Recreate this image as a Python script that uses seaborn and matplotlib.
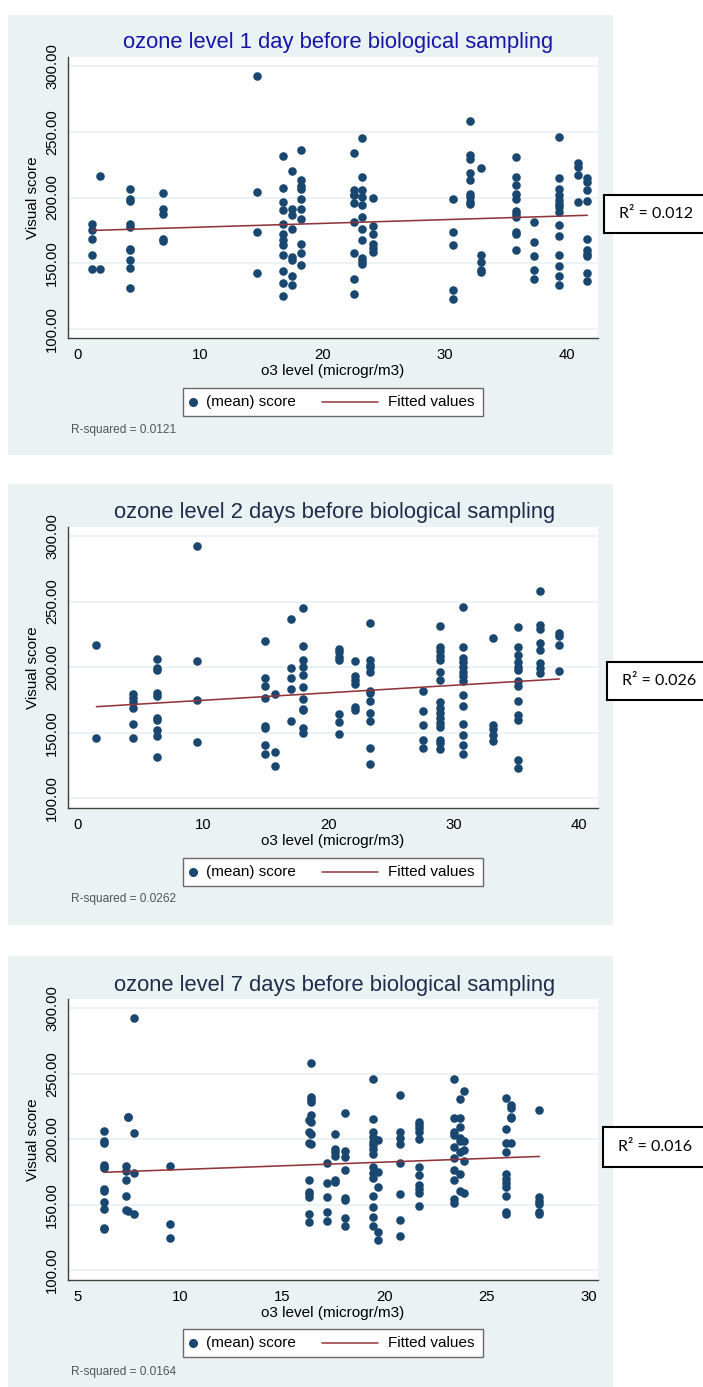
import numpy as np
import pandas as pd
import matplotlib
matplotlib.use('Agg')
import matplotlib.pyplot as plt
from matplotlib.patches import Rectangle
from matplotlib.lines import Line2D
import seaborn as sns

# ---- data (o3 level groups and scores per group) ----
o3_day1 = [1.2, 1.8, 4.3, 7.0, 14.7, 16.8, 17.5, 18.3, 22.6, 23.3, 24.2,
           30.7, 32.1, 33.0, 35.9, 37.3, 39.4, 40.9, 41.7]
score_day1 = [
    [179.7, 175.6, 168.8, 156.3, 145.7],
    [216.5, 145.7],
    [206.1, 198.5, 197.5, 179.7, 177.7, 161.0, 160.0, 152.8, 146.7, 131.5],
    [203.8, 191.6, 187.8, 168.8, 167.0],
    [292.4, 204.3, 174.1, 142.9],
    [231.7, 207.6, 196.5, 190.4, 179.7, 172.6, 168.0, 163.7, 156.3, 144.1, 135.0, 124.9],
    [219.8, 191.6, 186.6, 176.4, 154.8, 152.8, 140.1, 133.8],
    [236.0, 213.2, 209.1, 206.1, 198.7, 191.6, 183.5, 164.5, 157.9, 149.0],
    [233.5, 205.6, 201.8, 201.8, 196.0, 181.5, 158.1, 138.0, 126.4],
    [245.2, 215.7, 205.6, 200.5, 194.4, 184.8, 175.9, 167.5, 154.3, 151.8, 149.8],
    [199.5, 178.4, 172.6, 165.0, 161.9, 158.6],
    [198.7, 173.9, 163.7, 129.4, 123.1],
    [258.4, 232.2, 229.2, 218.3, 213.2, 203.0, 200.5, 196.7, 194.9],
    [222.1, 156.1, 151.0, 145.2, 143.4],
    [230.7, 215.7, 209.4, 203.0, 199.2, 189.9, 187.8, 184.8, 173.9, 172.6, 159.9],
    [181.5, 166.2, 155.6, 144.7, 138.3],
    [245.7, 215.0, 206.1, 201.8, 198.0, 195.4, 192.9, 189.0, 178.9, 170.4, 156.1, 148.0, 140.4, 133.8],
    [226.4, 223.3, 217.0, 196.7],
    [214.5, 211.9, 205.6, 197.0, 168.8, 159.9, 156.9, 155.3, 142.9, 136.6],
]

o3_day2 = [1.5, 4.4, 6.3, 9.5, 14.9, 15.7, 17.05, 18.0, 20.8, 22.1, 23.3,
           27.5, 28.9, 30.7, 33.1, 35.1, 36.9, 38.4]
score_day2 = [
    [216.8, 145.7],
    [179.4, 176.4, 173.1, 168.8, 156.4, 145.7],
    [206.3, 199.0, 197.5, 180.2, 177.7, 161.2, 159.9, 152.3, 147.2, 131.5],
    [292.6, 204.6, 174.6, 142.9],
    [220.0, 191.4, 186.0, 176.4, 154.8, 153.3, 140.4, 134.0],
    [179.4, 135.0, 124.9],
    [236.5, 199.0, 191.6, 183.5, 158.9],
    [245.2, 216.0, 205.6, 200.5, 194.2, 184.8, 176.1, 168.0, 167.0, 153.6, 149.8],
    [213.7, 211.2, 208.1, 205.6, 164.5, 158.1, 149.3],
    [204.6, 193.0, 190.4, 187.3, 169.3, 167.5],
    [233.5, 205.6, 201.8, 200.0, 196.7, 182.0, 180.2, 173.9, 165.0, 158.6, 138.3, 126.4],
    [181.5, 166.8, 155.6, 144.7, 138.3],
    [231.7, 215.2, 212.7, 208.6, 205.6, 196.7, 190.4, 173.1, 168.8, 165.0, 161.2, 157.4,
     154.3, 144.7, 142.1, 137.6],
    [245.9, 215.2, 206.8, 203.6, 200.5, 196.7, 192.9, 189.1, 178.9, 170.6, 156.6, 148.0,
     140.4, 133.8],
    [222.3, 155.6, 153.0, 148.5, 143.4],
    [230.7, 215.2, 209.4, 203.6, 200.0, 198.0, 189.1, 185.3, 174.4, 163.7, 159.9, 129.4, 123.1],
    [258.4, 232.2, 228.9, 218.3, 213.2, 203.0, 199.2, 195.4],
    [225.9, 223.4, 217.0, 197.2],
]

o3_day7 = [6.3, 7.35, 7.45, 7.75, 9.5, 16.3, 16.4, 17.2, 17.6, 18.1, 19.45,
           19.7, 20.75, 21.7, 23.4, 23.7, 23.9, 25.95, 26.2, 27.6]
score_day7 = [
    [206.6, 199.0, 197.5, 180.4, 179.2, 177.9, 161.9, 160.8, 152.4, 147.0, 132.0, 131.3],
    [179.7, 176.1, 169.0, 156.8, 146.1],
    [217.3, 217.3, 145.3],
    [292.9, 204.9, 174.6, 143.0],
    [179.7, 135.2, 125.0],
    [214.8, 205.9, 197.5, 169.0, 159.6, 158.0, 155.8, 143.0, 136.7],
    [258.5, 232.6, 230.8, 228.3, 218.8, 213.2, 203.8, 196.2],
    [181.7, 166.4, 155.8, 144.8, 137.9],
    [204.3, 192.4, 190.6, 187.3, 169.0, 167.7],
    [220.1, 191.4, 186.8, 176.6, 155.0, 153.7, 140.2, 133.9],
    [246.1, 215.3, 205.9, 202.1, 198.2, 195.7, 192.4, 188.8, 179.2, 174.6, 170.8, 156.8,
     148.1, 140.5, 133.9],
    [199.5, 175.3, 163.9, 129.5, 123.2],
    [234.1, 205.9, 200.8, 196.5, 181.7, 158.3, 138.5, 126.5],
    [213.5, 211.0, 208.4, 205.9, 200.0, 179.2, 172.8, 165.2, 161.9, 158.8, 149.1],
    [245.8, 216.0, 205.9, 203.3, 194.4, 185.5, 176.6, 169.0, 154.2, 151.7],
    [230.8, 216.0, 209.7, 200.8, 199.0, 190.6, 173.6, 160.8],
    [236.9, 199.0, 191.9, 183.7, 158.8],
    [231.8, 207.9, 197.0, 190.1, 173.3, 169.5, 166.4, 163.4, 156.8, 144.8, 143.0],
    [226.2, 223.7, 217.3, 216.0, 197.5],
    [222.2, 155.8, 153.2, 150.7, 144.8, 143.0],
]

titles = ['ozone level 1 day before biological sampling',
          'ozone level 2 days before biological sampling',
          'ozone level 7 days before biological sampling']
r2_short = ['0.012', '0.026', '0.016']
r2_long = ['0.0121', '0.0262', '0.0164']
xticks = [[0, 10, 20, 30, 40], [0, 10, 20, 30, 40], [5, 10, 15, 20, 25, 30]]
yticks = [100, 150, 200, 250, 300]

W, H = 703, 1387
NAVY = '#1a476f'
MAROON = '#90353b'
BG = '#eaf2f3'
title_colors = ['#1616a8', '#1f2c4c', '#1f2c4c']
panel_tops = [15, 484.3, 956]
panel_bots = [455, 925, 1387]
ax_tops = [57, 526.7, 999.3]
ax_bots = [338, 808.3, 1280]
xlims = [(-0.77, 42.55), (-0.74, 41.46), (4.54, 30.45)]
ylims = [(93.2, 306.8), (92.4, 307.1), (92.6, 306.9)]
title_x = [338, 334.5, 334.5]
title_y = [42.7, 512.3, 985]
xlabel_y = [370.7, 841, 1312.7]
legend_tops = [388.3, 857.7, 1329.3]
rsq_y = [430, 899.3, 1371.7]
r2box = [(604, 195, 233), (607.3, 661.7, 700), (603.3, 1126.7, 1167.3)]
AX_L, AX_R = 68.3, 597.7


def fx(x):
    return x / W


def fy(y):
    return 1 - y / H


def expand(o3, scores):
    return pd.DataFrame({'o3': np.repeat(o3, [len(s) for s in scores]),
                         'score': np.concatenate(scores)})


sns.set_style('white')
plt.rcParams['font.family'] = ['Liberation Sans', 'DejaVu Sans']

fig = plt.figure(figsize=(W / 100, H / 100), dpi=100)
fig.patch.set_facecolor('white')

datasets = [expand(o3_day1, score_day1), expand(o3_day2, score_day2),
            expand(o3_day7, score_day7)]

for i, df in enumerate(datasets):
    # panel background
    fig.add_artist(Rectangle((fx(8.3), fy(panel_bots[i])), fx(613.3 - 8.3),
                             (panel_bots[i] - panel_tops[i]) / H,
                             transform=fig.transFigure, facecolor=BG,
                             edgecolor='none', zorder=0))

    ax = fig.add_axes([fx(AX_L), fy(ax_bots[i]), fx(AX_R - AX_L),
                       (ax_bots[i] - ax_tops[i]) / H])
    ax.set_facecolor('white')
    ax.set_zorder(1)

    for y in yticks:
        ax.axhline(y, color=BG, lw=1.3, zorder=0)

    sns.scatterplot(data=df, x='o3', y='score', ax=ax, color=NAVY, s=38,
                    linewidth=0, zorder=3)
    sns.regplot(data=df, x='o3', y='score', ax=ax, scatter=False, ci=None,
                truncate=True, line_kws=dict(color=MAROON, lw=1.15, zorder=4))

    ax.set_xlim(*xlims[i])
    ax.set_ylim(*ylims[i])
    ax.set_xticks(xticks[i])
    ax.set_xticklabels([str(t) for t in xticks[i]], fontsize=10.7)
    ax.set_yticks(yticks)
    ax.set_yticklabels([f'{t:.2f}' for t in yticks], fontsize=10.7,
                       rotation=90, va='center')
    ax.set(xlabel='', ylabel='')
    for s in ['top', 'right']:
        ax.spines[s].set_visible(False)
    for s in ['left', 'bottom']:
        ax.spines[s].set_color('#404040')
        ax.spines[s].set_linewidth(1.0)
    ax.tick_params(axis='both', direction='out', length=4.5, width=0.8,
                   color='#404040', labelcolor='black')
    ax.tick_params(axis='x', pad=2.5)
    ax.tick_params(axis='y', pad=2.0)

    # titles and axis labels
    fig.text(fx(title_x[i]), fy(title_y[i]), titles[i], ha='center',
             va='center', fontsize=15.8, color=title_colors[i])
    fig.text(fx(333), fy(xlabel_y[i]), 'o3 level (microgr/m3)', ha='center',
             va='center', fontsize=11, color='black')
    fig.text(fx(33.3), fy((ax_tops[i] + ax_bots[i]) / 2), 'Visual score',
             ha='center', va='center', rotation=90, fontsize=11, color='black')

    # legend box
    lt = legend_tops[i]
    lc = lt + 14
    fig.add_artist(Rectangle((fx(183.3), fy(lt + 28)), fx(300), 28 / H,
                             transform=fig.transFigure, facecolor='white',
                             edgecolor='#6a6a6a', lw=1.0, zorder=2))
    fig.add_artist(Line2D([fx(193.3)], [fy(lc)], marker='o', ls='',
                          color=NAVY, markersize=5.5,
                          transform=fig.transFigure, zorder=3))
    fig.text(fx(205.7), fy(lc), '(mean) score', ha='left', va='center',
             fontsize=11, color='black', zorder=3)
    fig.add_artist(Line2D([fx(321.7), fx(378.3)], [fy(lc), fy(lc)],
                          color=MAROON, lw=1.1,
                          transform=fig.transFigure, zorder=3))
    fig.text(fx(388.3), fy(lc), 'Fitted values', ha='left', va='center',
             fontsize=11, color='black', zorder=3)

    fig.text(fx(71.3), fy(rsq_y[i]), f'R-squared = {r2_long[i]}', ha='left',
             va='center', fontsize=8.6, color='#555555')

    # R^2 box on the right
    bx, btop, bbot = r2box[i]
    fig.add_artist(Rectangle((fx(bx), fy(bbot)), fx(120), (bbot - btop) / H,
                             transform=fig.transFigure, facecolor='white',
                             edgecolor='black', lw=1.5, zorder=5))
    fig.text(fx(bx + 52), fy((btop + bbot) / 2), f'R² = {r2_short[i]}',
             ha='center', va='center', fontsize=11.5, color='black',
             family=['Lato', 'DejaVu Sans'], zorder=6)

fig.savefig('out.png', dpi=100)
